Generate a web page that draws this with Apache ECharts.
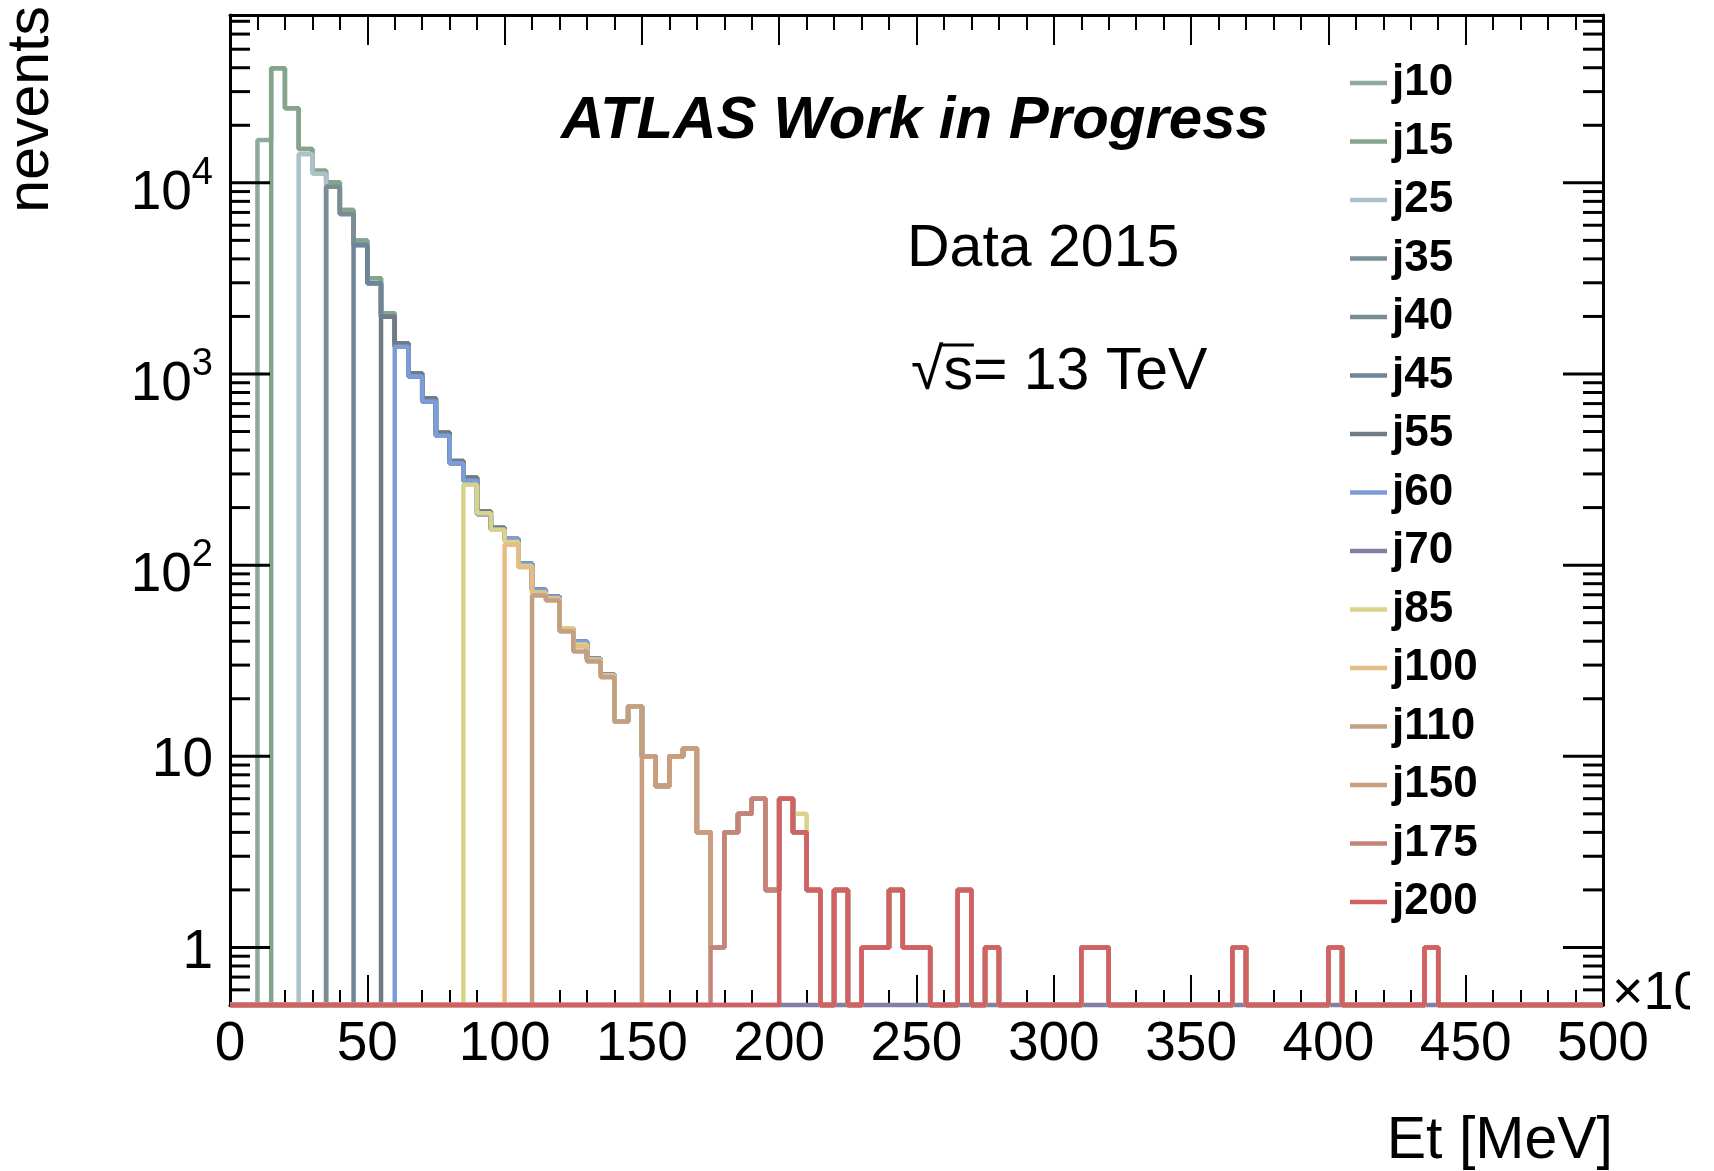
<!DOCTYPE html>
<html><head><meta charset="utf-8">
<script src="https://cdn.jsdelivr.net/npm/echarts@6/dist/echarts.min.js"></script>
<style>html,body{margin:0;padding:0;background:#fff}#c{width:1714px;height:1171px}</style>
</head><body><div id="c"></div>
<script>
// ---------------- data ----------------
const binWidth = 5;          // x 10^3 MeV
const binCount = 100;        // 0 .. 500
const yMin = 0.5, yMax = 75500;

const triggerNames  = ['j10','j15','j25','j35','j40','j45','j55','j60','j70','j85','j100','j110','j150','j175','j200'];
const triggerColors = ['#8eaa9f','#84a58c','#adc0cb','#7b8f99','#7a8d93','#6d8499','#6f7b87','#7b9dd8','#8080a2','#d8d28a','#e5bd84','#c2a082','#c99d7e','#c5847a','#d26164'];
const triggerStarts = [10, 15, 25, 35, 35, 45, 55, 60, 0, 85, 100, 110, 150, 175, 200];

// upper envelope, bins 15..145
const upperEt = [39700, 24550, 15030, 11580, 10070, 7210, 4985, 3170, 2080, 1449, 1009, 747, 494, 351, 287, 191, 157, 137, 101.6, 74.3, 68.5, 46.8, 39.8, 32.4, 26.7, 15.2, 18.2];
// lower (later-trigger) curve, bins 25..95
const lowerEt = [14120, 11140, 9550, 6870, 4730, 2985, 1995, 1390, 969, 717, 475, 341, 276, 185, 154];
// common tail, bins 150..495
const tailEt = [10, 7, 10, 11, 4, 1, 4, 5, 6, 2,
                6, 4, 2, 0, 2, 0, 1, 1, 2, 1,
                1, 0, 0, 2, 0, 1, 0, 0, 0, 0,
                0, 0, 1, 1, 0, 0, 0, 0, 0, 0,
                0, 0, 0, 1, 0, 0, 0, 0, 0, 0,
                1, 0, 0, 0, 0, 0, 0, 1, 0, 0,
                0, 0, 0, 0, 0, 0, 0, 0, 0, 0];
const j85Head  = [263, 187, 153, 132, 99, 72, 67, 46.8, 38.5, 32, 26.5, 15.2, 18.2, 10, 7, 10, 11, 4, 1, 4, 5, 6, 2, 6, 5]; // bins 85..205
const j100Head = [128, 97.6, 71, 67, 46, 37.5, 32, 26.5, 15.2, 18.2];   // bins 100..145
const j110Head = [69.3, 65.3, 45, 35.3, 31.3, 25.9, 15.2, 18.2];        // bins 110..145

const j10  = [16750].concat(upperEt, tailEt);
const j15  = upperEt.concat(tailEt);
const j25  = lowerEt.concat(upperEt.slice(17), tailEt);
const j35  = lowerEt.slice(2).concat(upperEt.slice(17), tailEt);
const j40  = lowerEt.slice(2).concat(upperEt.slice(17), tailEt);
const j45  = lowerEt.slice(4).concat(upperEt.slice(17), tailEt);
const j55  = lowerEt.slice(6, 7).concat(upperEt.slice(9), tailEt);
const j60  = lowerEt.slice(7).concat(upperEt.slice(17), tailEt);
const j70  = [];
const j85  = j85Head.concat(tailEt.slice(12));
const j100 = j100Head.concat(tailEt);
const j110 = j110Head.concat(tailEt);
const j150 = tailEt.slice(0);
const j175 = tailEt.slice(5);
const j200 = tailEt.slice(10);
const triggerValues = [j10, j15, j25, j35, j40, j45, j55, j60, j70, j85, j100, j110, j150, j175, j200];

const xTickLabels = ['0','50','100','150','200','250','300','350','400','450','500'];
const yTickValues = [1, 10, 100, 1000, 10000];
const yTickLabels = ['1', '10', '{b|10}{s|2}', '{b|10}{s|3}', '{b|10}{s|4}'];

// ---------------- build ----------------
function histPoints(start, vals) {
  const pts = [];
  for (let i = 0; i < binCount; i++) {
    const lo = i * binWidth;
    const k = Math.round((lo - start) / binWidth);
    const v = (k >= 0 && k < vals.length) ? vals[k] : 0;
    pts.push([lo, v > 0 ? v : yMin]);
  }
  pts.push([binCount * binWidth, pts[pts.length - 1][1]]);
  return pts;
}

const yTicks = [];
for (let e = -1; e <= 4; e++) {
  for (let m = 1; m <= 9; m++) {
    const v = m * Math.pow(10, e);
    if (v > yMin && v < yMax) yTicks.push([0, v, m === 1 ? 1 : 0]);
  }
}

const FONT = '"Liberation Sans", Arial, Helvetica, sans-serif';
const histSeries = triggerNames.map((n, i) => ({
  name: n, type: 'line', step: 'end', showSymbol: false, symbol: 'none',
  clip: false, color: triggerColors[i],
  lineStyle: { width: 4.5, color: triggerColors[i] },
  itemStyle: { color: triggerColors[i] },
  data: histPoints(triggerStarts[i], triggerValues[i]),
  z: 3 + i * 0.01, animation: false
}));

const tickSeries = {
  type: 'custom', name: 'yticks', xAxisIndex: 0, yAxisIndex: 0, clip: false, silent: true,
  encode: { x: 0, y: 1 }, z: 4,
  data: yTicks,
  renderItem(params, api) {
    const v = api.value(1), major = api.value(2);
    const pl = api.coord([0, v]), pr = api.coord([binCount * binWidth, v]);
    const L = major ? 40 : 20;
    const st = { stroke: '#000', lineWidth: 3 };
    return { type: 'group', children: [
      { type: 'line', shape: { x1: pl[0], y1: pl[1], x2: pl[0] + L, y2: pl[1] }, style: st },
      { type: 'line', shape: { x1: pr[0] - L, y1: pr[1], x2: pr[0], y2: pr[1] }, style: st }
    ]};
  }
};

const chart = echarts.init(document.getElementById('c'), null, { renderer: 'canvas' });

// measure for the sqrt overline
const mctx = document.createElement('canvas').getContext('2d');
const sqFont = '59px ' + FONT;
mctx.font = sqFont;
const wRoot = mctx.measureText('√').width;
const wS = mctx.measureText('s').width;
const sqX = 911, sqY = 373;

const axisLineStyle = { color: '#000', width: 3 };
const option = {
  backgroundColor: '#fff',
  animation: false,
  grid: { left: 230, right: 111, top: 15, bottom: 166, containLabel: false },
  xAxis: [
    { type: 'value', min: 0, max: 500, interval: 50, position: 'bottom',
      axisLine: { show: true, onZero: false, lineStyle: axisLineStyle },
      axisTick: { show: true, inside: true, length: 30, lineStyle: { color: '#000', width: 2 } },
      minorTick: { show: true, splitNumber: 5, length: 15, lineStyle: { color: '#000', width: 2 } },
      splitLine: { show: false },
      axisLabel: { show: true, margin: 12, fontSize: 55, color: '#000', fontFamily: FONT,
        formatter: (v) => xTickLabels[Math.round(v / 50)] } },
    { type: 'value', min: 0, max: 500, interval: 50, position: 'top',
      axisLine: { show: true, onZero: false, lineStyle: axisLineStyle },
      axisTick: { show: true, inside: true, length: 30, lineStyle: { color: '#000', width: 2 } },
      minorTick: { show: true, splitNumber: 5, length: 15, lineStyle: { color: '#000', width: 2 } },
      splitLine: { show: false }, axisLabel: { show: false } }
  ],
  yAxis: [
    { type: 'log', logBase: 10, min: yMin, max: yMax, position: 'left',
      axisLine: { show: true, onZero: false, lineStyle: axisLineStyle },
      axisTick: { show: false }, splitLine: { show: false },
      axisLabel: { show: true, margin: 17, color: '#000', fontFamily: FONT, fontSize: 55,
        showMinLabel: false, showMaxLabel: false, padding: [10, 0, 0, 0],
        formatter: (v) => { const k = yTickValues.indexOf(Math.pow(10, Math.round(Math.log10(v)))); return k >= 0 ? yTickLabels[k] : ''; },
        rich: { b: { fontSize: 55, fontFamily: FONT, color: '#000', padding: [12, 0, 0, 0] },
                s: { fontSize: 38, fontFamily: FONT, color: '#000', verticalAlign: 'top' } } } },
    { type: 'log', logBase: 10, min: yMin, max: yMax, position: 'right',
      axisLine: { show: true, onZero: false, lineStyle: axisLineStyle },
      axisTick: { show: false }, splitLine: { show: false }, axisLabel: { show: false } }
  ],
  legend: {
    data: triggerNames, orient: 'vertical', left: 1345, top: 55.5,
    icon: 'rect', itemWidth: 37, itemHeight: 4.5, itemGap: 13.5, selectedMode: false,
    textStyle: { fontSize: 44, fontWeight: 'bold', fontFamily: FONT, color: '#000', lineHeight: 45 }
  },
  series: histSeries.concat([tickSeries]),
  graphic: [
    { type: 'text', x: 561, y: 121, z: 10,
      style: { text: 'ATLAS Work in Progress', font: 'italic bold 60px ' + FONT, fill: '#000', textAlign: 'left', textVerticalAlign: 'middle' } },
    { type: 'text', x: 907, y: 250, z: 10,
      style: { text: 'Data 2015', font: '59px ' + FONT, fill: '#000', textAlign: 'left', textVerticalAlign: 'middle' } },
    { type: 'text', x: sqX, y: sqY, z: 10,
      style: { text: '√s= 13 TeV', font: sqFont, fill: '#000', textAlign: 'left', textVerticalAlign: 'middle' } },
    { type: 'line', z: 10, shape: { x1: sqX + wRoot - 2, y1: sqY - 28, x2: sqX + wRoot + wS + 1, y2: sqY - 28 }, style: { stroke: '#000', lineWidth: 3 } },
    { type: 'text', x: 1613, y: 1142, z: 10,
      style: { text: 'Et [MeV]', font: '59px ' + FONT, fill: '#000', textAlign: 'right', textVerticalAlign: 'middle' } },
    { type: 'text', x: 32, y: 6, rotation: Math.PI / 2, z: 10,
      style: { text: 'nevents', font: '59px ' + FONT, fill: '#000', textAlign: 'right', textVerticalAlign: 'middle' } },
    { type: 'text', x: 1612, y: 994, z: 10,
      style: { text: '×10{s|3}', font: '54px ' + FONT, fill: '#000', textAlign: 'left', textVerticalAlign: 'middle',
        rich: { s: { fontSize: 36, fontFamily: FONT, verticalAlign: 'top' } } } },
    { type: 'rect', z: 20, shape: { x: 1690, y: 940, width: 30, height: 80 }, style: { fill: '#fff' } }
  ]
};
chart.setOption(option);
</script>
</body></html>
